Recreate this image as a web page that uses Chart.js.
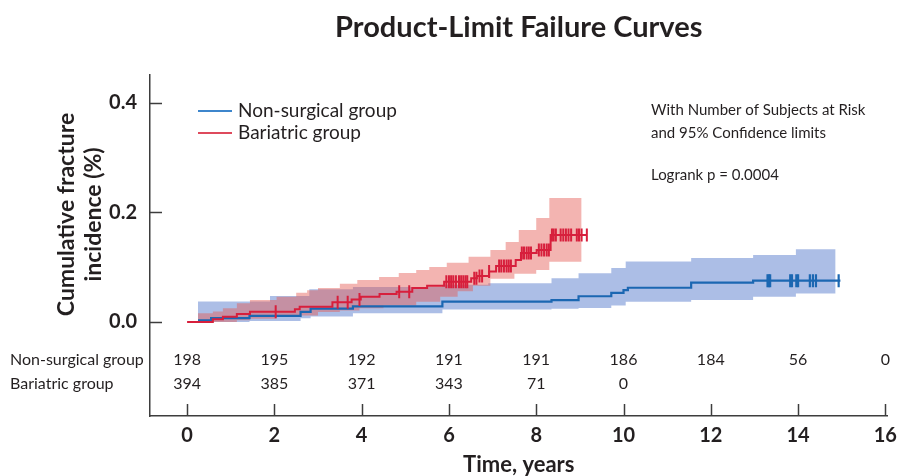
<!DOCTYPE html>
<html>
<head>
<meta charset="utf-8">
<script src="https://cdn.jsdelivr.net/npm/chart.js@4.4.1/dist/chart.umd.min.js"></script>
<style>
  html, body { margin: 0; padding: 0; background: #ffffff; }
  #wrap { width: 905px; height: 476px; position: relative; }
</style>
</head>
<body>
<div id="wrap"><canvas id="c" width="905" height="476"></canvas></div>
<script>
// ---------- DATA ----------
const chartTitle = "Product-Limit Failure Curves";
const xTicks = [0, 2, 4, 6, 8, 10, 12, 14, 16];
const yTicks = [0.0, 0.2, 0.4];
const groupNames = ["Non-surgical group", "Bariatric group"];

// Non-surgical group: Kaplan-Meier failure curve (time in years, cumulative incidence)
const blueT = [0.25, 0.55, 1.43, 2.6, 2.83, 3.8, 5.85, 8.35, 8.97, 9.72, 10.0, 10.1, 11.55, 12.97, 14.97];
const blueV = [0.003, 0.007, 0.011, 0.0185, 0.0245, 0.0285, 0.037, 0.040, 0.047, 0.053, 0.058, 0.0625, 0.0718, 0.0755, 0.0755];
const blueUpT = [0.25, 1.9, 2.8, 3.8, 5.85, 6.9, 8.35, 8.97, 9.72, 10.05, 11.55, 12.97, 13.95, 14.86];
const blueUpV = [0.0375, 0.0475, 0.0597, 0.064, 0.068, 0.0707, 0.080, 0.089, 0.0985, 0.1105, 0.117, 0.1225, 0.133, 0.133];
const blueLoT = [0.25, 1.43, 2.6, 2.83, 3.8, 5.85, 8.35, 8.97, 9.72, 10.05, 11.55, 12.97, 13.95, 14.86];
const blueLoV = [0.0, 0.002, 0.007, 0.010, 0.016, 0.023, 0.024, 0.0256, 0.030, 0.037, 0.040, 0.046, 0.052, 0.052];
const blueCensor = [13.3, 13.33, 13.36, 13.82, 13.86, 13.96, 14.0, 14.27, 14.34, 14.41, 14.93];

// Bariatric group
const redT = [0, 0.59, 0.82, 1.14, 1.44, 2.47, 2.58, 3.33, 3.77, 3.98, 4.41, 4.8, 5.16, 5.5, 5.89, 6.51, 6.64, 6.92, 7.08, 7.53, 7.65, 8.01, 8.33, 9.16];
const redV = [0, 0.005, 0.0097, 0.0146, 0.0188, 0.0232, 0.028, 0.036, 0.041, 0.046, 0.051, 0.055, 0.062, 0.066, 0.0736, 0.080, 0.084, 0.092, 0.102, 0.113, 0.126, 0.1315, 0.159, 0.159];
const redUpT = [0.25, 0.59, 0.82, 1.14, 1.44, 2.05, 2.5, 2.75, 3.0, 3.5, 3.9, 4.4, 4.85, 5.25, 5.55, 5.95, 6.45, 6.95, 7.3, 7.6, 8.0, 8.3, 9.04];
const redUpV = [0.016, 0.019, 0.025, 0.034, 0.040, 0.046, 0.0535, 0.058, 0.062, 0.070, 0.0767, 0.082, 0.0895, 0.095, 0.1005, 0.108, 0.119, 0.1315, 0.146, 0.168, 0.190, 0.2265, 0.2265];
const redLoT = [0.25, 1.14, 1.44, 2.05, 2.6, 3.0, 3.5, 3.95, 4.5, 5.25, 5.8, 6.2, 6.55, 6.95, 7.5, 8.0, 8.3, 9.04];
const redLoV = [0.0, 0.003, 0.006, 0.009, 0.012, 0.018, 0.021, 0.025, 0.030, 0.037, 0.046, 0.056, 0.066, 0.079, 0.088, 0.095, 0.110, 0.110];
const redCensor = [2.03, 3.45, 3.68, 3.95, 4.86, 5.09, 5.94, 6.0, 6.05, 6.1, 6.16, 6.23, 6.28, 6.33, 6.38, 6.42,
  6.58, 6.63, 6.7, 6.76, 6.92, 7.15, 7.2, 7.26, 7.32, 7.37, 7.42, 7.67, 7.72, 7.78, 7.83, 7.88,
  8.06, 8.12, 8.18, 8.24, 8.29, 8.36, 8.4, 8.45, 8.56, 8.62, 8.68, 8.74, 8.8, 8.93, 8.98, 9.04, 9.16];

// Number at risk table
const riskTimes = [0, 2, 4, 6, 8, 10, 12, 14, 16];
const riskNonSurgical = [198, 195, 192, 191, 191, 186, 184, 56, 0];
const riskBariatric = [394, 385, 371, 343, 71, 0];

const noteLines = ["With Number of Subjects at Risk", "and 95% Confidence limits"];
const logrankText = "Logrank p = 0.0004";
const yTitleLines = ["Cumulative fracture", "incidence (%)"];
const xTitle = "Time, years";

// ---------- STYLE ----------
const FONT = "Lato";
const TEXT = "#231f20";
const BLUE = "#1b67b2";
const RED = "#d71f3c";
const BLUE_BAND = "rgba(70,110,200,0.45)";
const RED_BAND = "rgba(228,88,82,0.45)";
const AXIS = "#3d3d3d";

// ---------- HELPERS ----------
const toPts = (T, V) => T.map((t, i) => ({ x: t, y: V[i] }));
function stepAt(T, V, t) {
  let v = V[0];
  for (let i = 0; i < T.length; i++) { if (T[i] <= t + 1e-9) v = V[i]; }
  return v;
}
const censorPts = (C, T, V) => C.map(t => ({ x: t, y: stepAt(T, V, t) }));

const textPlugin = {
  id: 'textPlugin',
  afterDraw(chart) {
    const ctx = chart.ctx;
    const xs = chart.scales.x, ys = chart.scales.y;
    const ca = chart.chartArea;
    ctx.save();
    ctx.fillStyle = TEXT;
    ctx.textBaseline = 'middle';

    // Title
    ctx.font = `bold 29px ${FONT}`;
    ctx.textAlign = 'center';
    ctx.fillText(chartTitle, (ca.left + ca.right) / 2, 28);

    // Inward tick marks
    ctx.strokeStyle = AXIS;
    ctx.lineWidth = 1.5;
    yTicks.forEach(v => {
      const y = Math.round(ys.getPixelForValue(v)) + 0.5;
      ctx.beginPath(); ctx.moveTo(ca.left, y); ctx.lineTo(ca.left + 12, y); ctx.stroke();
    });
    xTicks.forEach(v => {
      const x = Math.round(xs.getPixelForValue(v)) + 0.5;
      ctx.beginPath(); ctx.moveTo(x, ca.bottom); ctx.lineTo(x, ca.bottom - 12); ctx.stroke();
    });

    // Legend
    const legendItems = [[groupNames[0], "#3d86cc", 111], [groupNames[1], "#de4a5c", 133]];
    ctx.textAlign = 'left';
    ctx.font = `19px ${FONT}`;
    legendItems.forEach(([label, col, y]) => {
      ctx.strokeStyle = col; ctx.lineWidth = 2;
      ctx.beginPath(); ctx.moveTo(198, y); ctx.lineTo(232, y); ctx.stroke();
      ctx.fillStyle = TEXT;
      ctx.fillText(label, 238, y);
    });

    // Annotation
    ctx.font = `15px ${FONT}`;
    ctx.fillText(noteLines[0], 651, 110);
    ctx.fillText(noteLines[1], 651, 133);
    ctx.fillText(logrankText, 651, 175);

    // Y title
    const yc = ys.getPixelForValue(0.2) + 2;
    [[yTitleLines[0], 67], [yTitleLines[1], 94]].forEach(([txt, x]) => {
      ctx.save();
      ctx.font = `bold 23px ${FONT}`;
      ctx.textAlign = 'center';
      ctx.translate(x, yc); ctx.rotate(-Math.PI / 2);
      ctx.fillText(txt, 0, 0);
      ctx.restore();
    });

    // X title
    ctx.font = `bold 22px ${FONT}`;
    ctx.textAlign = 'center';
    ctx.fillText(xTitle, (ca.left + ca.right) / 2, 465);

    // At-risk table
    ctx.font = `16px ${FONT}`;
    ctx.textAlign = 'left';
    ctx.fillText(groupNames[0], 10, 360);
    ctx.fillText(groupNames[1], 10, 384);
    ctx.textAlign = 'center';
    riskNonSurgical.forEach((n, i) => ctx.fillText(String(n), xs.getPixelForValue(riskTimes[i]), 360));
    riskBariatric.forEach((n, i) => ctx.fillText(String(n), xs.getPixelForValue(riskTimes[i]), 384));
    ctx.restore();
  }
};

const bandDs = (pts, color, fill, order) => ({
  data: pts, stepped: true, borderWidth: 0, pointRadius: 0, borderColor: 'rgba(0,0,0,0)',
  backgroundColor: color, fill: fill, order: order
});

const chart = new Chart(document.getElementById('c'), {
  type: 'line',
  data: {
    datasets: [
      bandDs(toPts(blueUpT, blueUpV), BLUE_BAND, '+1', 10),
      bandDs(toPts(blueLoT, blueLoV), BLUE_BAND, false, 10),
      bandDs(toPts(redUpT, redUpV), RED_BAND, '+1', 9),
      bandDs(toPts(redLoT, redLoV), RED_BAND, false, 9),
      { label: groupNames[0], data: toPts(blueT, blueV), stepped: true, borderColor: BLUE, borderWidth: 2.2, pointRadius: 0, fill: false, order: 5 },
      { label: groupNames[1], data: toPts(redT, redV), stepped: true, borderColor: RED, borderWidth: 2, pointRadius: 0, fill: false, order: 4 },
      { data: censorPts(blueCensor, blueT, blueV), showLine: false, pointStyle: 'line', rotation: 90, pointRadius: 6.5,
        pointBorderWidth: 2.2, pointBorderColor: BLUE, borderColor: BLUE, order: 2 },
      { data: censorPts(redCensor, redT, redV), showLine: false, pointStyle: 'line', rotation: 90, pointRadius: 6.5,
        pointBorderWidth: 2, pointBorderColor: RED, borderColor: RED, order: 1 }
    ]
  },
  options: {
    responsive: false,
    animation: false,
    layout: { padding: { top: 75, right: 15, left: 0, bottom: 0 } },
    plugins: { legend: { display: false }, title: { display: false }, tooltip: { enabled: false } },
    scales: {
      x: {
        type: 'linear', min: -0.85, max: 16.05,
        afterBuildTicks: s => { s.ticks = xTicks.map(v => ({ value: v })); },
        afterFit: s => { s.height = 60; },
        grid: { display: true, drawOnChartArea: false, drawTicks: false },
        border: { display: true, color: AXIS, width: 1.5 },
        ticks: { padding: 8, color: TEXT, font: { family: FONT, size: 20, weight: 'bold' }, maxRotation: 0,
          callback: v => String(v) }
      },
      y: {
        type: 'linear', min: -0.1717, max: 0.451,
        afterBuildTicks: s => { s.ticks = yTicks.map(v => ({ value: v })); },
        afterFit: s => { s.width = 150; },
        grid: { display: true, drawOnChartArea: false, drawTicks: false },
        border: { display: true, color: AXIS, width: 1.5 },
        ticks: { padding: 13, color: TEXT, font: { family: FONT, size: 20, weight: 'bold' },
          callback: v => Number(v).toFixed(1) }
      }
    }
  },
  plugins: [textPlugin]
});
</script>
</body>
</html>
